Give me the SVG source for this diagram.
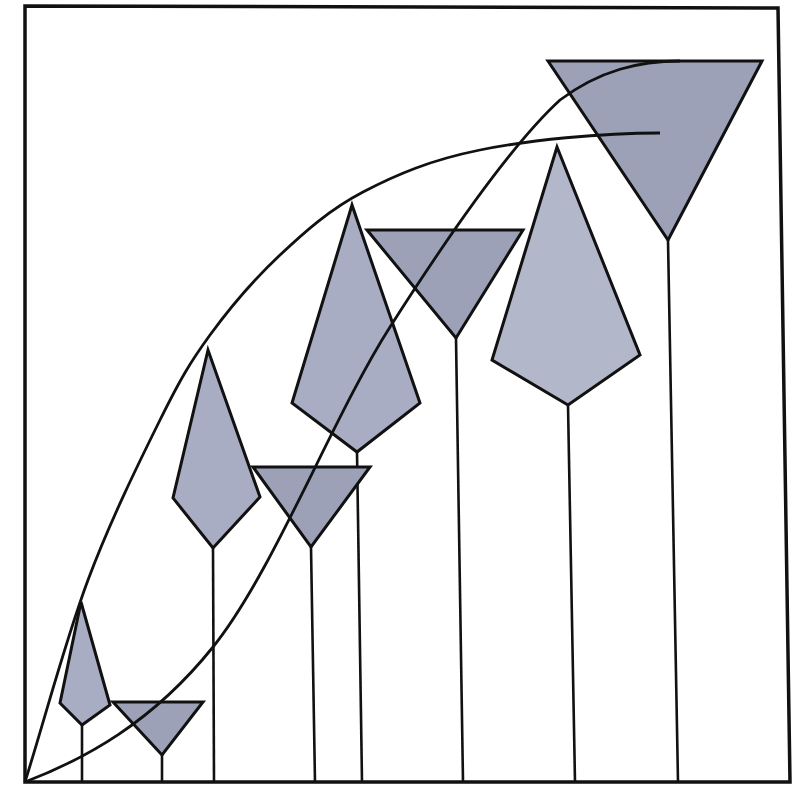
<svg xmlns="http://www.w3.org/2000/svg" width="798" height="792" viewBox="0 0 798 792">
<style>
.shape{fill:#a9adc3;stroke:#111;stroke-width:3;stroke-linejoin:miter}
.tri{fill:#9da1b7}
.stem{stroke:#111;stroke-width:2.6;fill:none}
.curve{stroke:#111;stroke-width:2.8;fill:none}
.frame{stroke:#111;stroke-width:3.5;fill:none}
</style>
<rect width="798" height="792" fill="#fff"/>
<polygon class="frame" points="25,6 778,8 790,782 25,782"/>
<g id="stems">
<line class="stem" x1="82" y1="725" x2="82" y2="782"/>
<line class="stem" x1="162" y1="755" x2="162" y2="782"/>
<line class="stem" x1="213" y1="548" x2="214" y2="782"/>
<line class="stem" x1="311" y1="547" x2="315" y2="782"/>
<line class="stem" x1="357" y1="452" x2="362" y2="782"/>
<line class="stem" x1="456" y1="338" x2="463" y2="782"/>
<line class="stem" x1="568" y1="405" x2="575" y2="782"/>
<line class="stem" x1="668" y1="240" x2="678" y2="782"/>
</g>
<g id="kite1"><polygon class="shape" points="81,602 60,703 82,725 110,705"/></g>
<g id="tri1"><polygon class="shape tri" points="113,702 203,702 162,755"/></g>
<g id="kite2"><polygon class="shape" points="208,350 173,498 213,548 260,497"/></g>
<g id="tri2"><polygon class="shape tri" points="253,467 370,467 311,547"/></g>
<g id="kite3"><polygon class="shape" points="352,205 292,403 357,452 420,403"/></g>
<g id="tri3"><polygon class="shape tri" points="367,230 523,230 456,338"/></g>
<g id="kite4"><polygon class="shape" points="557,147 492,360 568,405 640,355" style="fill:#b3b7ca"/></g>
<g id="tri4"><polygon class="shape tri" points="548,61 762,61 668,240"/></g>
<g id="curves">
<path class="curve" d="M25,782 C46,715 65.5,640 88,580 C110.5,520 139.7,461 160,420 C180.3,379 190,362.5 210,335 C230,307.5 254.5,279 280,255 C305.5,231 329.7,209.5 363,192 C396.3,174.5 430.5,160 480,150 C529.5,140 600,133 660,133"/>
<path class="curve" d="M25,782 C85,759 152,723 213,647 C274,571 332,418 390,327 C448,236 512,144 560,100 C600,70 640,61 680,61"/>
</g>
</svg>
